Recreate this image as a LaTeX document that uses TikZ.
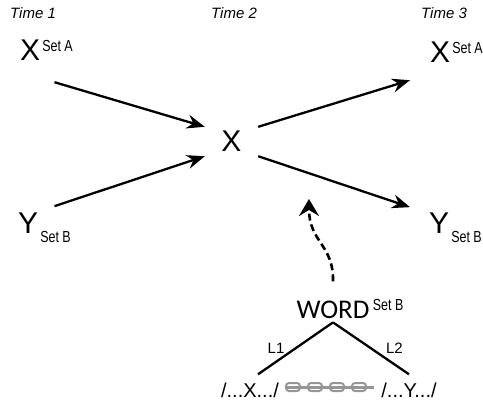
\documentclass[tikz,border=0pt]{standalone}
\usepackage{fontspec}
\setmainfont{Liberation Sans}
\newfontfamily\wordfont{Carlito}
\usetikzlibrary{arrows.meta}
\definecolor{chaingray}{RGB}{150,150,150}
\newcommand{\cond}[1]{\scalebox{0.78}[1]{#1}}

\begin{document}
\begin{tikzpicture}[x=1pt,y=-1pt,
  timelbl/.style={font=\itshape\fontsize{15}{18}\selectfont, inner sep=0pt, anchor=base},
  letter/.style={font=\fontsize{30}{32}\selectfont, inner sep=0pt, anchor=base west},
  arr/.style={line width=2.3pt, -{Stealth[length=18pt,width=14pt,inset=6pt]}},
  tree/.style={line width=2.3pt},
  link/.style={draw=chaingray, line width=2pt, rounded corners=3pt}]
\useasboundingbox (0,0) rectangle (483,407);

\node[timelbl] (t1) at (33,18) {Time 1};
\node[timelbl] (t2) at (234,18) {Time 2};
\node[timelbl] (t3) at (444,18) {Time 3};

\node[letter] (xa) at (20,60) {X\raisebox{9pt}{\fontsize{16}{18}\selectfont\cond{\,Set A}}};
\node[letter] (ya) at (18,233) {Y\raisebox{-9pt}{\fontsize{16}{18}\selectfont\cond{\,Set B}}};
\node[letter] (xb) at (430,62) {X\raisebox{9pt}{\fontsize{16}{18}\selectfont\cond{\,Set A}}};
\node[letter] (yb) at (429,233) {Y\raisebox{-9pt}{\fontsize{16}{18}\selectfont\cond{\,Set B}}};
\node[font=\fontsize{30}{32}\selectfont, inner sep=0pt, minimum width=53pt, minimum height=29pt] (xc) at (231.5,141.5) {X};

\draw[arr] ([xshift=8pt,yshift=-22pt]xa.south) -- (xc.north west);
\draw[arr] ([xshift=10pt,yshift=6pt]ya.north) -- (xc.south west);
\draw[arr] (xc.north east) -- ([xshift=-20pt,yshift=-18pt]xb.south west);
\draw[arr] (xc.south east) -- ([xshift=-19pt,yshift=5pt]yb.north west);

\node[font=\wordfont\fontsize{27}{30}\selectfont, inner sep=0pt, anchor=base] (word) at (333,318) {WORD};
\node[font=\fontsize{16}{18}\selectfont, inner sep=0pt, anchor=north west] (wset) at ([xshift=3pt,yshift=1pt]word.north east) {\cond{Set B}};
\coordinate (hint) at (309,199);
\draw[arr, -{Stealth[length=17pt,width=20pt,inset=6pt]}, line width=2.6pt, dash pattern=on 7pt off 4pt] ([yshift=19pt]word.north) .. controls (334,245) and (309,242) .. (hint);

\node[font=\fontsize{20}{22}\selectfont, inner sep=0pt, anchor=base] (sx) at (250,397) {/...X.../};
\node[font=\fontsize{20}{22}\selectfont, inner sep=0pt, anchor=base] (sy) at (409,397) {/...Y.../};
\draw[tree] ([xshift=8pt,yshift=8pt]sx.north) -- node[midway, left=10pt, inner sep=0pt, font=\fontsize{15}{18}\selectfont] (l1) {L1} ([yshift=-4pt]word.south);
\draw[tree] ([yshift=-4pt]word.south) -- node[midway, right=14pt, inner sep=0pt, font=\fontsize{15}{18}\selectfont] (l2) {L2} ([yshift=8pt]sy.north);

\draw[chaingray, line width=3pt] (285,387) -- (374,387);
\foreach \cx in {293,315,337,359} {
  \draw[link] (\cx-7,383) rectangle (\cx+7,391);
}
\end{tikzpicture}
\end{document}
